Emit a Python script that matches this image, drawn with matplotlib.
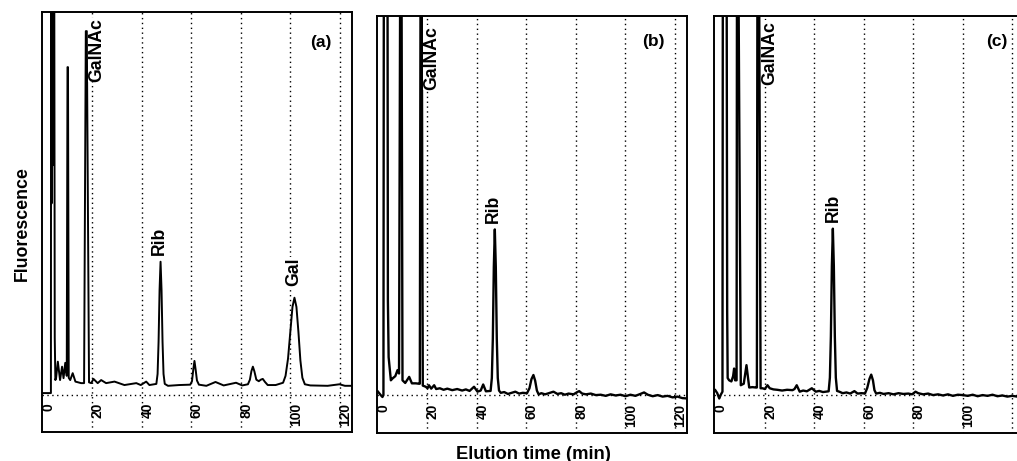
import matplotlib
matplotlib.use('Agg')
import matplotlib.pyplot as plt
from matplotlib.transforms import ScaledTranslation

# ---------------- data ----------------
time_a = [0.0, 3.2, 3.3, 3.45, 3.6, 3.75, 3.9, 4.05, 4.2, 4.35, 4.5, 4.75, 5.0, 5.3, 6.0,
          6.9, 7.7, 8.3, 9.0, 9.6,
          9.9, 10.1, 10.4, 11.0, 12.0, 13.1, 15.4, 16.6, 17.3, 17.7, 18.6, 19.5, 20.4, 22.1,
          23.5, 25.5, 28.9, 32.9, 37.7, 39.5, 41.7, 43.0, 45.8, 46.3, 46.7, 47.1, 47.5,
          47.9, 48.3, 48.7, 49.2, 50.5, 55.0, 59.5, 60.2, 60.7, 61.2, 61.7, 62.2, 63.0,
          66.0, 69.7, 73.0, 78.0, 80.5, 82.8, 83.6, 84.2, 84.8, 85.4, 86.2, 87.2, 88.0,
          88.8, 89.7, 90.8, 94.0, 97.0, 98.0, 99.0, 100.0, 100.8, 101.6, 102.4, 103.2,
          104.0, 104.8, 105.8, 108.0, 115.0, 119.8, 122.0, 125.0]
signal_a = [0.5, 0.5, 140, 50, 140, 80, 140, 60, 140, 70, 140, 15, 3.9, 4.5, 8.7,
            3.9, 7.4, 4.4, 8.4, 5.0,
            85.6, 85.6, 4.5, 3.9, 5.7, 3.5, 3.1, 3.1, 95.0, 95.0, 3.3, 3.1, 4.2, 3.1,
            3.9, 3.1, 3.5, 2.6, 3.1, 2.6, 3.5, 2.6, 2.9, 5.5, 13.9, 27.4, 34.8,
            27.4, 13.9, 5.5, 2.9, 2.4, 2.6, 2.7, 3.6, 6.5, 8.9, 6.5, 3.8, 2.7,
            2.4, 3.4, 2.5, 3.2, 2.5, 2.8, 4.0, 6.2, 7.4, 6.2, 4.0, 3.6, 4.0,
            4.2, 3.4, 2.6, 2.6, 3.2, 5.0, 9.5, 17.0, 23.0, 25.4, 23.0, 16.5,
            9.0, 4.5, 2.8, 2.5, 2.4, 2.8, 2.4, 2.4]

time_b = [0.0, 1.1, 1.8, 2.2, 2.4, 2.8, 3.2, 3.5, 3.8, 4.0, 4.3, 5.2, 5.9, 7.0, 7.9, 8.5,
          9.1, 9.4, 9.9, 11.0, 12.6, 13.7, 15.3, 16.5, 16.9, 17.3, 17.5, 18.1, 19.3, 20.0,
          20.6, 21.5, 22.7, 23.5, 25.0, 26.5, 28.0, 30.0, 32.0, 34.0, 35.5, 37.0, 38.8,
          40.2, 41.5, 42.5, 43.6, 45.5, 46.0, 46.4, 46.8, 47.2, 47.6, 48.0, 48.4, 48.9,
          49.6, 51.0, 52.5, 54.0, 55.5, 57.0, 58.5, 60.2, 61.2, 62.0, 62.8, 63.5, 64.2,
          64.9, 66.0, 67.5, 69.0, 70.9, 72.5, 74.0, 75.5, 77.0, 79.0, 80.5, 81.3, 82.5,
          84.0, 86.0, 88.0, 90.0, 92.0, 94.0, 96.0, 98.0, 100.0, 102.0, 104.0, 106.0,
          107.5, 109.0, 111.0, 113.0, 115.0, 117.0, 119.0, 121.0, 123.0, 125.0]
signal_b = [0.9, 0.0, -0.5, 0.0, 140, 120, 140, 120, 140, 25, 10, 3.9, 4.4, 5.0, 6.6, 5.7,
            140, 140, 3.9, 3.2, 4.8, 3.1, 3.1, 3.0, 3.0, 150, 150, 2.5, 2.2, 1.8,
            2.6, 1.7, 2.6, 1.6, 1.8, 1.4, 1.7, 1.3, 1.6, 1.2, 1.5, 1.1, 2.2,
            0.9, 1.2, 2.8, 1.0, 1.1, 4.5, 14.9, 33.8, 43.7, 33.8, 14.9, 4.5, 1.2,
            0.6, 0.8, 0.3, 0.6, 0.9, 0.4, 0.6, 0.5, 1.8, 4.2, 5.3, 3.8, 1.2,
            0.2, 0.5, 0.2, 0.5, 0.9, 0.3, 0.5, 0.1, 0.4, 0.2, 0.8, 1.05, 0.4,
            0.2, 0.4, 0.0, 0.1, -0.2, 0.2, -0.1, 0.1, -0.3, 0.1, -0.2, 0.3,
            0.7, 0.1, -0.3, 0.0, -0.4, -0.2, -0.6, -0.4, -0.8, -0.9]

time_c = [0.0, 0.8, 1.6, 2.3, 2.9, 3.1, 3.5, 3.9, 4.3, 4.5, 4.8, 5.0, 5.6, 6.5, 7.2, 7.6,
          8.0, 8.6, 8.8, 9.1, 10.3, 11.5, 12.6, 13.7, 15.0, 16.4, 16.8, 17.1, 17.5, 18.3,
          19.1, 20.0, 21.1, 22.0, 23.5, 25.0, 27.0, 29.0, 31.2, 32.0, 32.9, 34.1, 35.5,
          37.0, 39.0, 40.6, 42.0, 43.5, 45.8, 46.3, 46.7, 47.1, 47.5, 47.9, 48.3, 48.7,
          49.2, 50.1, 51.5, 53.0, 54.5, 56.2, 57.5, 59.0, 60.5, 61.4, 62.3, 63.0, 63.7,
          64.3, 65.0, 66.5, 68.0, 70.0, 72.0, 74.0, 76.0, 78.0, 79.5, 80.9, 82.0, 84.0,
          86.0, 88.0, 90.0, 92.0, 94.0, 96.0, 98.0, 100.0, 102.0, 104.0, 106.0, 108.0,
          110.0, 112.0, 114.0, 116.0, 118.0, 120.0, 122.0, 125.0]
signal_c = [1.3, 0.5, -0.9, 0.2, 0.9, 150, 120, 150, 130, 150, 22, 4.5, 3.9, 3.6, 5.0, 7.0,
            3.9, 3.9, 140, 140, 2.6, 3.0, 7.9, 2.0, 2.1, 2.0, 2.0, 150, 150, 1.8,
            1.8, 1.6, 2.6, 1.8, 1.5, 1.4, 1.2, 1.4, 1.3, 1.6, 2.6, 0.9, 1.2,
            1.0, 1.8, 0.9, 1.1, 0.8, 1.0, 4.6, 15.5, 34.0, 43.9, 34.0, 15.5, 4.6,
            1.1, 0.9, 0.5, 0.7, 0.4, 1.05, 0.4, 0.5, 0.45, 1.9, 4.3, 5.4, 3.9,
            1.3, 0.4, 0.6, 0.3, 0.5, 0.2, 0.5, 0.3, 0.4, 0.2, 0.9, 0.5, 0.2,
            0.4, 0.0, 0.2, -0.1, 0.2, -0.2, 0.1, 0.0, -0.2, 0.1, -0.3, 0.0,
            -0.2, 0.1, -0.3, -0.1, -0.4, -0.2, -0.4, -0.3]

tick_values = [0, 20, 40, 60, 80, 100, 120]
tick_labels_ab = ['0', '20', '40', '60', '80', '100', '120']
tick_labels_c = ['0', '20', '40', '60', '80', '100', '']
panel_letters = ['(a)', '(b)', '(c)']

peak_labels_a = ['GalNAc', 'Rib', 'Gal']
peak_labels_b = ['GalNAc', 'Rib']
peak_labels_c = ['GalNAc', 'Rib']

# ---------------- styling / layout ----------------
FONT = 'Liberation Sans'
plt.rcParams['font.family'] = [FONT, 'DejaVu Sans']

fig = plt.figure(figsize=(10.17, 4.61), dpi=100)
W, H = 1017.0, 461.0

panels = [
    dict(rect=[42 / W, (H - 432) / H, 310 / W, 420 / H], t=time_a, s=signal_a,
         ticks=tick_labels_ab, lw=1.4, ylim=(-9.66, 100),
         labels=peak_labels_a, lpos=[(21.6, 90.1), (46.9, 40.2), (101.3, 32.1)],
         letter=(0.899, 0.927)),
    dict(rect=[377 / W, (H - 433) / H, 310 / W, 417 / H], t=time_b, s=signal_b,
         ticks=tick_labels_ab, lw=1.7, ylim=(-10.0, 100),
         labels=peak_labels_b, lpos=[(21.7, 89.0), (46.6, 49.0)],
         letter=(0.893, 0.938)),
    dict(rect=[714.3 / W, (H - 433) / H, 310 / W, 417 / H], t=time_c, s=signal_c,
         ticks=tick_labels_c, lw=1.7, ylim=(-10.0, 100),
         labels=peak_labels_c, lpos=[(21.9, 90.3), (47.8, 49.3)],
         letter=(0.911, 0.938)),
]

dot = (0, (1, 2.5))
for i, p in enumerate(panels):
    ax = fig.add_axes(p['rect'])
    ax.set_xlim(-0.4, 124.85)
    ax.set_ylim(*p['ylim'])
    for x in tick_values[1:]:
        ax.axvline(x, color='black', lw=1.0, ls=dot, zorder=1)
    ax.axhline(0, color='black', lw=1.0, ls=dot, zorder=1)
    ax.plot(p['t'], p['s'], color='black', lw=p['lw'], zorder=2,
            solid_joinstyle='round')
    ax.set_yticks([])
    ax.set_xticks(tick_values)
    ax.set_xticklabels(p['ticks'], rotation=90, va='top', ha='center',
                       fontsize=10, fontweight='bold')
    ax.tick_params(axis='x', length=0, pad=-21)
    off = ScaledTranslation(5.5 / 100, 0, fig.dpi_scale_trans)
    for lbl in ax.get_xticklabels():
        lbl.set_transform(lbl.get_transform() + off)
    for sp in ax.spines.values():
        sp.set_linewidth(1.4)
        sp.set_color('black')
    for txt, (x, y) in zip(p['labels'], p['lpos']):
        ax.text(x, y, txt, rotation=90, ha='center', va='center', fontsize=12.7,
                fontweight='bold', zorder=3,
                bbox=dict(facecolor='white', edgecolor='none', pad=0.3))
    ax.text(p['letter'][0], p['letter'][1], panel_letters[i], transform=ax.transAxes,
            ha='center', va='center', fontsize=12.5, fontweight='bold', zorder=3)

fig.text(22.5 / W, 1 - 224 / H, 'Fluorescence', rotation=90, ha='center', va='center',
         fontsize=12.8, fontweight='bold')
fig.text(533 / W, 2.5 / H, 'Elution time (min)', ha='center', va='baseline',
         fontsize=13.2, fontweight='bold')

fig.savefig('out.png', dpi=100)
